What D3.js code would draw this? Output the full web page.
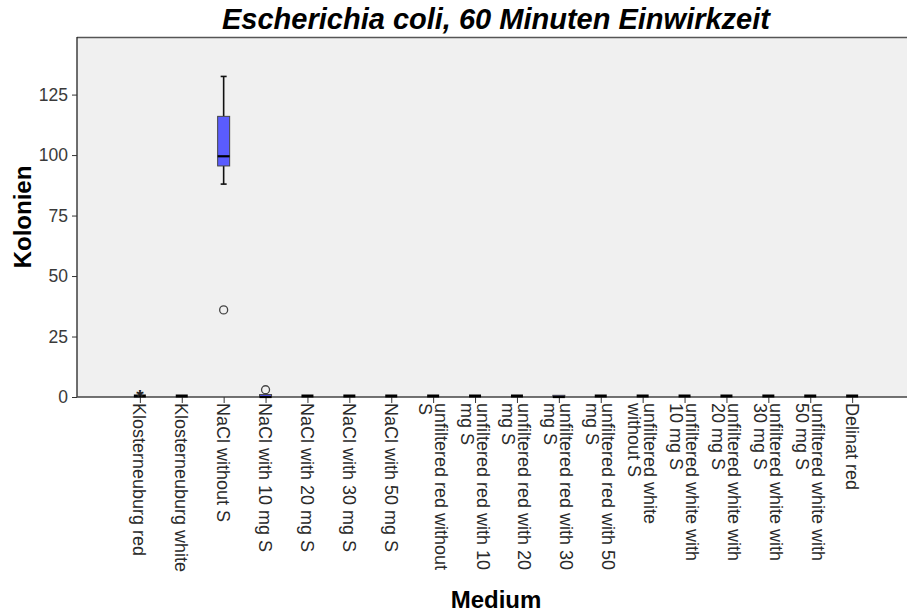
<!DOCTYPE html>
<html>
<head>
<meta charset="utf-8">
<script src="https://cdn.jsdelivr.net/npm/d3@7"></script>
<style>
  html, body { margin: 0; padding: 0; background: #ffffff; }
  svg { display: block; }
  text { font-family: "Liberation Sans", Arial, sans-serif; }
</style>
</head>
<body>
<svg id="chart" width="907" height="613"></svg>
<script>
// ---------- data ----------
const categories = [
  "Klosterneuburg red", "Klosterneuburg white", "NaCl without S",
  "NaCl with 10 mg S", "NaCl with 20 mg S", "NaCl with 30 mg S", "NaCl with 50 mg S",
  "unfiltered red without S", "unfiltered red with 10 mg S", "unfiltered red with 20 mg S",
  "unfiltered red with 30 mg S", "unfiltered red with 50 mg S",
  "unfiltered white without S", "unfiltered white with 10 mg S", "unfiltered white with 20 mg S",
  "unfiltered white with 30 mg S", "unfiltered white with 50 mg S", "Delinat red"
];
const labelLines = [
  ["Klosterneuburg red"], ["Klosterneuburg white"], ["NaCl without S"],
  ["NaCl with 10 mg S"], ["NaCl with 20 mg S"], ["NaCl with 30 mg S"], ["NaCl with 50 mg S"],
  ["unfiltered red without", "S"], ["unfiltered red with 10", "mg S"], ["unfiltered red with 20", "mg S"],
  ["unfiltered red with 30", "mg S"], ["unfiltered red with 50", "mg S"],
  ["unfiltered white", "without S"], ["unfiltered white with", "10 mg S"], ["unfiltered white with", "20 mg S"],
  ["unfiltered white with", "30 mg S"], ["unfiltered white with", "50 mg S"], ["Delinat red"]
];
const whiskerLow  = [0, 0, 88, 0, 0, 0, 0, 0, 0, 0, 0, 0, 0, 0, 0, 0, 0, 0];
const q1          = [0, 0, 95.5, 0, 0, 0, 0, 0, 0, 0, 0, 0, 0, 0, 0, 0, 0, 0];
const medians     = [0, 0, 99.5, 0, 0, 0, 0, 0, 0, 0, 0, 0, 0, 0, 0, 0, 0, 0];
const q3          = [0, 0, 116, 1, 0, 0, 0, 0, 0, 0, 0.7, 0, 0, 0, 0, 0, 0, 0];
const whiskerHigh = [0, 0, 132.5, 1, 0, 0, 0, 0, 0, 0, 0.7, 0, 0, 0, 0, 0, 0, 0];
const outlierCats   = ["NaCl without S", "NaCl with 10 mg S"];
const outlierValues = [36, 3];
const extremeCats   = ["Klosterneuburg red"];
const extremeValues = [2];
const yTicks = [0, 25, 50, 75, 100, 125];
const yMax = 148.8;

const titleText = "Escherichia coli, 60 Minuten Einwirkzeit";
const yTitle = "Kolonien";
const xTitle = "Medium";

// ---------- layout ----------
const svg = d3.select("#chart");
const plotLeft = 77, plotRight = 915, plotTop = 37, plotBottom = 397;

const x = d3.scalePoint().domain(categories).range([plotLeft, plotRight]).padding(1.5);
const y = d3.scaleLinear().domain([0, yMax]).range([plotBottom, plotTop]);

// plot background
svg.append("rect")
  .attr("x", plotLeft).attr("y", plotTop)
  .attr("width", plotRight - plotLeft).attr("height", plotBottom - plotTop)
  .attr("fill", "#f0f0f0");
// top frame
svg.append("line")
  .attr("x1", plotLeft).attr("x2", plotRight)
  .attr("y1", plotTop + 0.5).attr("y2", plotTop + 0.5)
  .attr("stroke", "#555").attr("stroke-width", 1.5);

// y axis
const yAxis = svg.append("g")
  .attr("transform", `translate(${plotLeft},0)`)
  .call(d3.axisLeft(y).tickValues(yTicks).tickSize(5).tickPadding(4).tickSizeOuter(0));
yAxis.select(".domain").attr("stroke", "#222").attr("stroke-width", 1.3)
  .attr("d", `M0,${plotTop}V${plotBottom}`);
yAxis.selectAll(".tick line").attr("stroke", "#333");
yAxis.selectAll(".tick text")
  .attr("font-size", 17.5).attr("fill", "#3a3a3a")
  .attr("font-family", "'Liberation Sans', Arial, sans-serif");

// x axis
const xAxis = svg.append("g")
  .attr("transform", `translate(0,${plotBottom})`)
  .call(d3.axisBottom(x).tickSize(6).tickSizeOuter(0).tickFormat(""));
xAxis.select(".domain").attr("stroke", "#444").attr("stroke-width", 1.5)
  .attr("d", `M${plotLeft},0H${907}`);
xAxis.selectAll(".tick line").attr("stroke", "#333");

// rotated category labels
const fs = 18, lh = 16;
const lab = svg.append("g").selectAll("text")
  .data(categories)
  .join("text")
  .attr("transform", d => `translate(${x(d)},${plotBottom + 6}) rotate(90)`)
  .attr("font-size", fs)
  .attr("fill", "#2a2a2a")
  .attr("text-anchor", "start");
lab.each(function(d, i) {
  const lines = labelLines[i];
  const n = lines.length;
  d3.select(this).selectAll("tspan")
    .data(lines)
    .join("tspan")
    .attr("x", 0)
    .attr("y", (t, j) => (j - (n - 1) / 2) * lh + 0.36 * fs)
    .text(t => t);
});

// boxplots
const boxW = 12, capW = 6;
const g = svg.append("g");
categories.forEach((c, i) => {
  const cx = x(c);
  if (whiskerHigh[i] > q3[i]) {
    g.append("line").attr("x1", cx).attr("x2", cx)
      .attr("y1", y(q3[i])).attr("y2", y(whiskerHigh[i]))
      .attr("stroke", "#111").attr("stroke-width", 1.6);
    g.append("line").attr("x1", cx - capW / 2).attr("x2", cx + capW / 2)
      .attr("y1", y(whiskerHigh[i])).attr("y2", y(whiskerHigh[i]))
      .attr("stroke", "#111").attr("stroke-width", 1.6);
  }
  if (whiskerLow[i] < q1[i]) {
    g.append("line").attr("x1", cx).attr("x2", cx)
      .attr("y1", y(whiskerLow[i])).attr("y2", y(q1[i]))
      .attr("stroke", "#111").attr("stroke-width", 1.6);
    g.append("line").attr("x1", cx - capW / 2).attr("x2", cx + capW / 2)
      .attr("y1", y(whiskerLow[i])).attr("y2", y(whiskerLow[i]))
      .attr("stroke", "#111").attr("stroke-width", 1.6);
  }
  const h = y(q1[i]) - y(q3[i]);
  if (h > 0) {
    g.append("rect")
      .attr("x", cx - boxW / 2).attr("y", y(q3[i]))
      .attr("width", boxW).attr("height", h)
      .attr("fill", "#5a5cff").attr("stroke", "#444").attr("stroke-width", 1);
  }
  g.append("line")
    .attr("x1", cx - boxW / 2).attr("x2", cx + boxW / 2)
    .attr("y1", y(medians[i]) - (h > 0 ? 0 : 1)).attr("y2", y(medians[i]) - (h > 0 ? 0 : 1))
    .attr("stroke", "#000").attr("stroke-width", h > 0 ? 2.2 : 3);
});

// outliers (circles)
svg.append("g").selectAll("circle")
  .data(outlierValues)
  .join("circle")
  .attr("cx", (d, i) => x(outlierCats[i]))
  .attr("cy", d => y(d))
  .attr("r", 4)
  .attr("fill", "none")
  .attr("stroke", "#444")
  .attr("stroke-width", 1.3);

// extreme values (asterisks)
svg.append("g").selectAll("text")
  .data(extremeValues)
  .join("text")
  .attr("x", (d, i) => x(extremeCats[i]))
  .attr("y", d => y(d) + 11)
  .attr("text-anchor", "middle")
  .attr("font-size", 19)
  .attr("font-weight", "bold")
  .attr("fill", "#222")
  .text("*");

// titles
svg.append("text")
  .attr("x", (plotLeft + plotRight) / 2).attr("y", 29)
  .attr("text-anchor", "middle")
  .attr("font-size", 29).attr("font-weight", "bold").attr("font-style", "italic")
  .attr("fill", "#000")
  .text(titleText);

svg.append("text")
  .attr("transform", `translate(31,${(plotTop + plotBottom) / 2}) rotate(-90)`)
  .attr("text-anchor", "middle")
  .attr("font-size", 24).attr("font-weight", "bold")
  .attr("fill", "#000")
  .text(yTitle);

svg.append("text")
  .attr("x", (plotLeft + plotRight) / 2).attr("y", 608)
  .attr("text-anchor", "middle")
  .attr("font-size", 24).attr("font-weight", "bold")
  .attr("fill", "#000")
  .text(xTitle);
</script>
</body>
</html>
